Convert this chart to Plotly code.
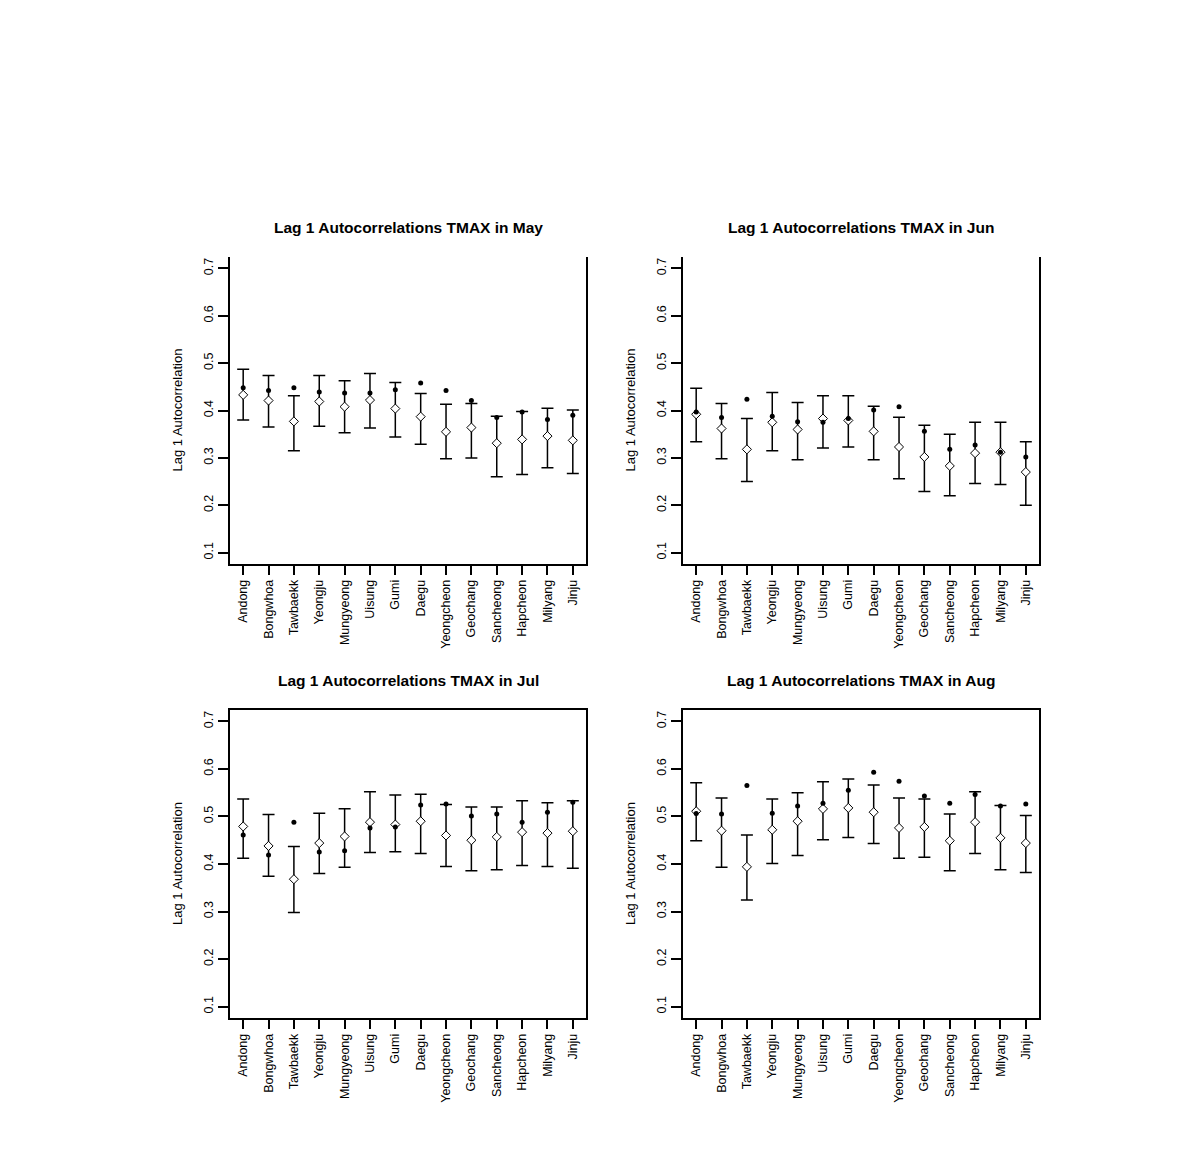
import plotly.graph_objects as go

stations = ["Andong", "Bongwhoa", "Tawbaekk", "Yeongju", "Mungyeong", "Uisung", "Gumi",
            "Daegu", "Yeongcheon", "Geochang", "Sancheong", "Hapcheon", "Milyang", "Jinju"]
months = ["May", "Jun", "Jul", "Aug"]
y_ticks = [0.1, 0.2, 0.3, 0.4, 0.5, 0.6, 0.7]

may_upper = [0.487, 0.474, 0.431, 0.474, 0.463, 0.478, 0.459, 0.436, 0.413, 0.415, 0.388, 0.398, 0.405, 0.401]
may_lower = [0.380, 0.365, 0.315, 0.367, 0.353, 0.363, 0.344, 0.329, 0.298, 0.300, 0.260, 0.265, 0.279, 0.267]
may_sim   = [0.433, 0.421, 0.377, 0.419, 0.408, 0.422, 0.404, 0.387, 0.355, 0.364, 0.331, 0.339, 0.346, 0.337]
may_obs   = [0.448, 0.442, 0.448, 0.439, 0.437, 0.437, 0.444, 0.458, 0.442, 0.421, 0.385, 0.397, 0.381, 0.390]

jun_upper = [0.447, 0.415, 0.383, 0.438, 0.417, 0.431, 0.431, 0.409, 0.386, 0.369, 0.350, 0.375, 0.375, 0.334]
jun_lower = [0.334, 0.298, 0.250, 0.315, 0.296, 0.321, 0.323, 0.296, 0.256, 0.229, 0.220, 0.246, 0.244, 0.200]
jun_sim   = [0.392, 0.362, 0.318, 0.375, 0.360, 0.383, 0.379, 0.356, 0.323, 0.302, 0.283, 0.310, 0.312, 0.270]
jun_obs   = [0.397, 0.385, 0.424, 0.388, 0.376, 0.375, 0.383, 0.401, 0.408, 0.356, 0.318, 0.327, 0.312, 0.302]

jul_upper = [0.537, 0.504, 0.437, 0.507, 0.516, 0.552, 0.545, 0.547, 0.525, 0.520, 0.520, 0.533, 0.529, 0.533]
jul_lower = [0.412, 0.374, 0.298, 0.380, 0.393, 0.424, 0.426, 0.422, 0.395, 0.386, 0.388, 0.397, 0.395, 0.391]
jul_sim   = [0.479, 0.438, 0.368, 0.444, 0.458, 0.488, 0.483, 0.490, 0.460, 0.450, 0.457, 0.467, 0.465, 0.469]
jul_obs   = [0.461, 0.419, 0.488, 0.425, 0.428, 0.476, 0.478, 0.524, 0.526, 0.501, 0.505, 0.488, 0.509, 0.530]

aug_upper = [0.571, 0.539, 0.461, 0.537, 0.550, 0.573, 0.579, 0.566, 0.539, 0.537, 0.505, 0.552, 0.523, 0.502]
aug_lower = [0.449, 0.393, 0.324, 0.401, 0.418, 0.451, 0.456, 0.443, 0.412, 0.414, 0.386, 0.422, 0.388, 0.382]
aug_sim   = [0.511, 0.470, 0.394, 0.472, 0.490, 0.516, 0.518, 0.509, 0.476, 0.478, 0.449, 0.488, 0.455, 0.444]
aug_obs   = [0.506, 0.505, 0.565, 0.507, 0.522, 0.528, 0.555, 0.593, 0.574, 0.543, 0.528, 0.546, 0.522, 0.526]

panels = [
    (may_upper, may_lower, may_sim, may_obs),
    (jun_upper, jun_lower, jun_sim, jun_obs),
    (jul_upper, jul_lower, jul_sim, jul_obs),
    (aug_upper, aug_lower, aug_sim, aug_obs),
]

W, H = 1190, 1159
FONT = "Liberation Sans, Arial, sans-serif"

# panel boxes in pixels: (left, right, top, bottom)
boxes = [(230, 586, 257, 564), (683, 1039, 257, 564),
         (230, 586, 710, 1018), (683, 1039, 710, 1018)]
title_y = [227, 227, 680, 680]

fig = go.Figure()
xpos = list(range(1, len(stations) + 1))

for i, (up, lo, sim, obs) in enumerate(panels):
    ax = "" if i == 0 else str(i + 1)
    xa, ya = "x" + ax, "y" + ax
    plus = [u - s for u, s in zip(up, sim)]
    minus = [s - l for s, l in zip(sim, lo)]
    fig.add_trace(go.Scatter(
        x=xpos, y=sim, mode="markers", xaxis=xa, yaxis=ya, showlegend=False,
        marker=dict(symbol="diamond", size=7, color="white", line=dict(color="black", width=1)),
        error_y=dict(type="data", symmetric=False, array=plus, arrayminus=minus,
                     color="black", thickness=1.5, width=6),
    ))
    fig.add_trace(go.Scatter(
        x=xpos, y=obs, mode="markers", xaxis=xa, yaxis=ya, showlegend=False,
        marker=dict(symbol="circle", size=5, color="black"),
    ))
    l, r, t, b = boxes[i]
    top_row = i < 2
    fig.layout["xaxis" + ax] = dict(
        domain=[l / W, r / W], anchor=ya, range=[0.48, 14.52],
        tickmode="array", tickvals=xpos, ticktext=stations, tickangle=-90,
        ticks="outside", ticklen=9, tickwidth=1.5, tickcolor="black",
        showline=True, linecolor="black", linewidth=1.5, mirror=(not top_row),
        showgrid=False, zeroline=False,
        tickfont=dict(family=FONT, size=12.5, color="black"),
    )
    fig.layout["yaxis" + ax] = dict(
        domain=[1 - b / H, 1 - t / H], anchor=xa, range=[0.076, 0.724],
        tickmode="array", tickvals=y_ticks, ticktext=[f"{v:.1f}" for v in y_ticks],
        tickangle=-90, ticks="outside", ticklen=10, tickwidth=1.5, tickcolor="black",
        showline=True, linecolor="black", linewidth=1.5, mirror=True,
        showgrid=False, zeroline=False,
        tickfont=dict(family=FONT, size=12.5, color="black"),
    )
    fig.add_annotation(
        x=(l + r) / 2 / W, y=1 - title_y[i] / H, xref="paper", yref="paper",
        text=f"<b>Lag 1 Autocorrelations TMAX in {months[i]}</b>", showarrow=False,
        xanchor="center", yanchor="middle",
        font=dict(family=FONT, size=15.5, color="black"),
    )
    fig.add_annotation(
        x=(l - 53) / W, y=1 - (t + b) / 2 / H, xref="paper", yref="paper",
        text="Lag 1 Autocorrelation", showarrow=False, textangle=-90,
        xanchor="center", yanchor="middle",
        font=dict(family=FONT, size=13, color="black"),
    )

fig.update_layout(
    width=W, height=H, margin=dict(l=0, r=0, t=0, b=0),
    paper_bgcolor="white", plot_bgcolor="white", showlegend=False,
)

fig.write_html("out.html")
